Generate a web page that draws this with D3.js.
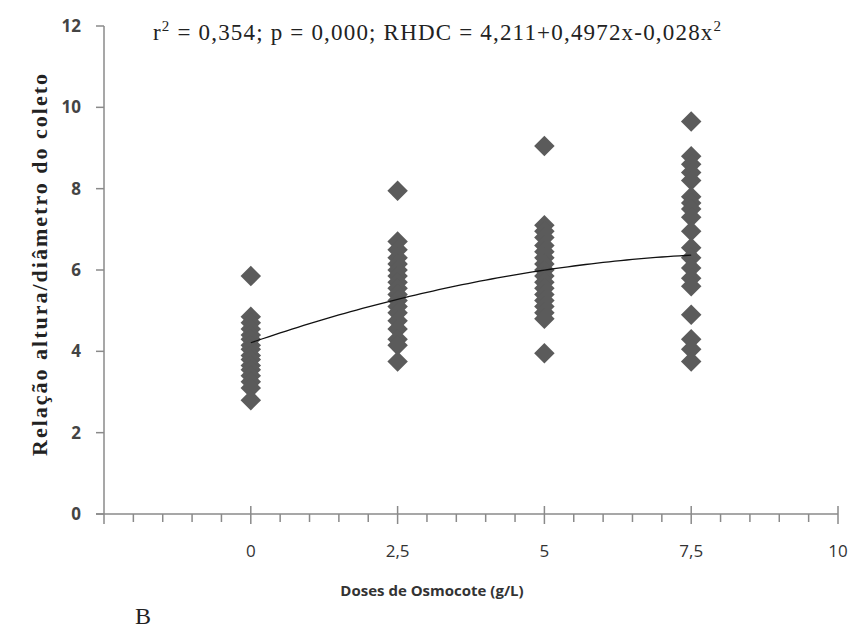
<!DOCTYPE html>
<meta charset="utf-8">
<style>
body { margin: 0; background: #fff; }
svg { display: block; }
.tick-lab { font-family: "Open Sans", "Noto Sans", sans-serif; font-size: 17px; fill: #333; }
</style>
<svg width="867" height="630"></svg>
<script src="https://d3js.org/d3.v7.min.js"></script>
<script>
var doses = [0, 2.5, 5, 7.5];
var valsDose0 = [5.85, 4.85, 4.7, 4.55, 4.4, 4.3, 4.15, 4.05, 3.9, 3.8, 3.65, 3.55, 3.4, 3.25, 3.1, 2.8];
var valsDose25 = [7.95, 6.7, 6.5, 6.3, 6.15, 6.0, 5.85, 5.7, 5.55, 5.4, 5.25, 5.1, 4.95, 4.75, 4.55, 4.3, 4.15, 3.75];
var valsDose5 = [9.05, 7.1, 6.95, 6.8, 6.6, 6.45, 6.3, 6.15, 6.0, 5.85, 5.7, 5.55, 5.4, 5.25, 5.1, 4.95, 4.8, 3.95];
var valsDose75 = [9.65, 8.8, 8.6, 8.4, 8.2, 7.8, 7.65, 7.5, 7.3, 6.95, 6.55, 6.3, 6.05, 5.8, 5.6, 4.9, 4.3, 4.05, 3.75];
var yTicks = [0, 2, 4, 6, 8, 10, 12];
var xTicks = [0, 2.5, 5, 7.5, 10];
var xTickLabels = ["0", "2,5", "5", "7,5", "10"];
// RHDC = 4,211 + 0,4972x - 0,028x^2
var coef = [4.211, 0.4972, -0.028];

var points = [];
[valsDose0, valsDose25, valsDose5, valsDose75].forEach(function(arr, i) {
    arr.forEach(function(v) { points.push({x: doses[i], y: v}); });
});

var svg = d3.select("svg");
var x = d3.scaleLinear().domain([-2.5, 10]).range([104, 838]);
var y = d3.scaleLinear().domain([0, 12]).range([514, 26]);
var axisColor = "#8a8a8a";

// y axis
svg.append("line").attr("x1", x(-2.5)).attr("x2", x(-2.5))
    .attr("y1", y(12)).attr("y2", y(0) + 10)
    .attr("stroke", axisColor).attr("stroke-width", 1.5);
svg.selectAll(".ytick").data(yTicks).enter().append("line")
    .attr("x1", x(-2.5) - 8).attr("x2", x(-2.5))
    .attr("y1", function(d) { return y(d); }).attr("y2", function(d) { return y(d); })
    .attr("stroke", axisColor).attr("stroke-width", 1.5);
svg.selectAll(".ylab").data(yTicks).enter().append("text")
    .attr("class", "tick-lab")
    .attr("x", 81).attr("y", function(d) { return y(d) + 6; })
    .attr("text-anchor", "end").style("font-weight", "bold").style("fill", "#444")
    .text(function(d) { return d; });

// x axis
svg.append("line").attr("x1", x(-2.5) - 8).attr("x2", x(10))
    .attr("y1", y(0)).attr("y2", y(0))
    .attr("stroke", axisColor).attr("stroke-width", 1.5);
var minor = d3.range(-2, 10.01, 0.5).filter(function(d) { return Math.abs(d / 2.5 - Math.round(d / 2.5)) > 1e-6; });
svg.selectAll(".xminor").data(minor).enter().append("line")
    .attr("x1", function(d) { return x(d); }).attr("x2", function(d) { return x(d); })
    .attr("y1", y(0)).attr("y2", y(0) + 8)
    .attr("stroke", axisColor).attr("stroke-width", 1.5);
svg.selectAll(".xmajor").data(xTicks).enter().append("line")
    .attr("x1", function(d) { return x(d); }).attr("x2", function(d) { return x(d); })
    .attr("y1", y(0) - 8).attr("y2", y(0) + 10)
    .attr("stroke", axisColor).attr("stroke-width", 1.5);
svg.selectAll(".xlab").data(xTicks).enter().append("text")
    .attr("class", "tick-lab")
    .attr("x", function(d) { return x(d); }).attr("y", 557)
    .attr("text-anchor", "middle")
    .text(function(d, i) { return xTickLabels[i]; });

// points
var diamond = d3.symbol().type(d3.symbolSquare).size(210);
svg.selectAll(".pt").data(points).enter().append("path")
    .attr("d", diamond)
    .attr("transform", function(d) { return "translate(" + x(d.x) + "," + y(d.y) + ") rotate(45)"; })
    .attr("fill", "#5b5b5b");

// fitted curve
var curve = d3.range(0, 7.501, 0.1).map(function(d) {
    return [d, coef[0] + coef[1] * d + coef[2] * d * d];
});
svg.append("path").datum(curve)
    .attr("d", d3.line().x(function(d) { return x(d[0]); }).y(function(d) { return y(d[1]); }))
    .attr("fill", "none").attr("stroke", "#111").attr("stroke-width", 1.3);

// equation
var eq = svg.append("text").attr("x", 153).attr("y", 40)
    .attr("textLength", 568).attr("lengthAdjust", "spacing")
    .style("font-family", "'Liberation Serif', serif").style("font-size", "23px").style("fill", "#222");
eq.append("tspan").text("r");
eq.append("tspan").attr("dy", -9).style("font-size", "15px").text("2");
eq.append("tspan").attr("dy", 9).text(" = 0,354;  p = 0,000;  RHDC = 4,211+0,4972x-0,028x");
eq.append("tspan").attr("dy", -9).style("font-size", "15px").text("2");

// axis titles
svg.append("text")
    .attr("transform", "translate(47," + 265 + ") rotate(-90)")
    .attr("text-anchor", "middle")
    .attr("textLength", 382).attr("lengthAdjust", "spacing")
    .style("font-family", "'Liberation Serif', serif").style("font-weight", "bold")
    .style("font-size", "22px").style("fill", "#222")
    .text("Relação altura/diâmetro do coleto");
svg.append("text")
    .attr("x", 432).attr("y", 596).attr("text-anchor", "middle")
    .style("font-family", "'Open Sans', sans-serif").style("font-weight", "bold")
    .style("font-size", "15px").style("fill", "#333")
    .text("Doses de Osmocote (g/L)");
svg.append("text")
    .attr("x", 135).attr("y", 624)
    .style("font-family", "'Liberation Serif', serif").style("font-size", "24px").style("fill", "#222")
    .text("B");
</script>
